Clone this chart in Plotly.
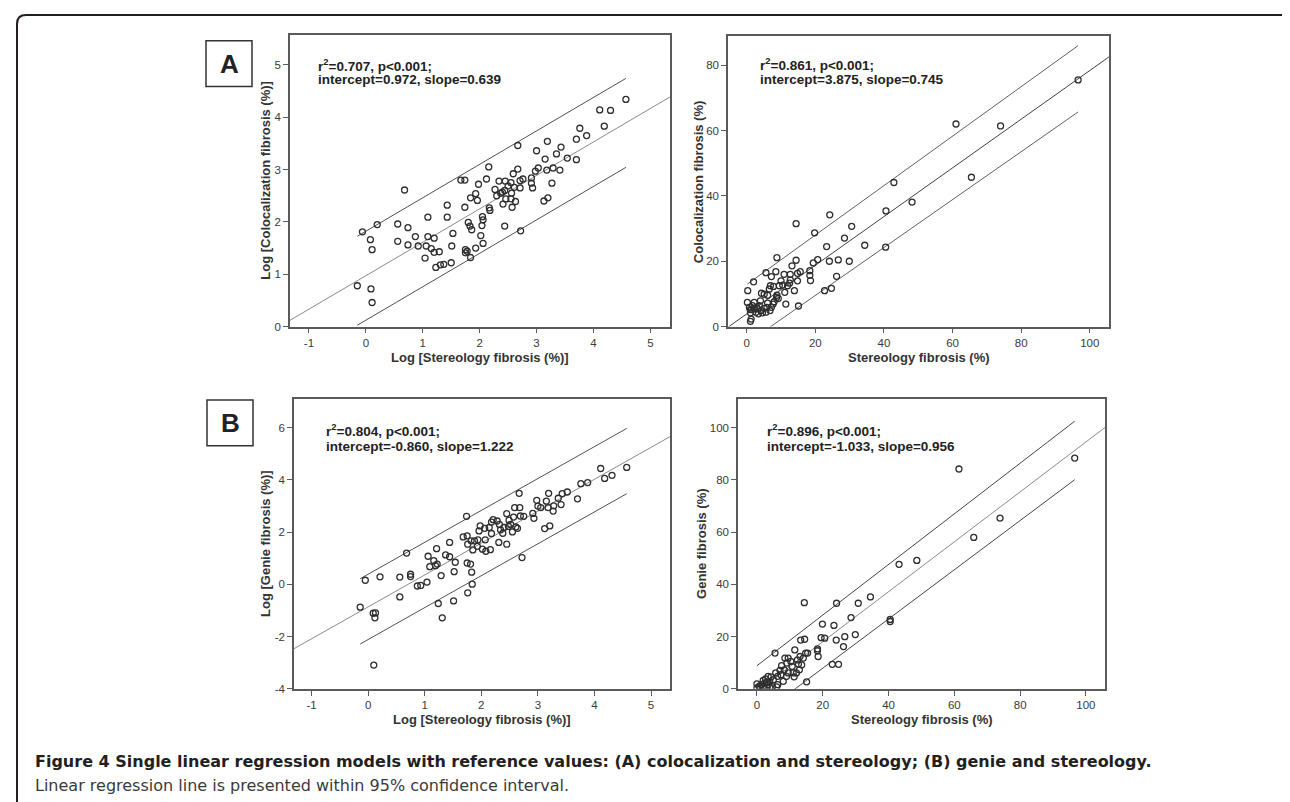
import numpy as np
import plotly.graph_objects as go

# ---------------- data ----------------
# Panel A (left): Log stereology vs Log colocalization
a_log_x = [-0.06, 0.20, 0.08, 0.11, -0.15, 0.09, 0.11, 0.68, 0.56, 0.56, 0.74, 0.74, 0.87, 0.92,
           1.09, 1.09, 1.06, 1.20, 1.04, 1.15, 1.20, 1.29, 1.23, 1.31, 1.37, 1.50, 1.43, 1.43, 1.53,
           1.51, 1.67, 1.74, 1.74, 1.80, 1.83, 1.86, 1.84, 1.93, 1.96, 1.98, 1.75, 1.78, 1.84, 1.75,
           1.93, 2.02, 2.06, 2.04, 2.05, 2.06, 2.12, 2.16, 2.17, 2.18, 2.27, 2.30, 2.34, 2.37, 2.40,
           2.45, 2.44, 2.41, 2.44, 2.46, 2.50, 2.55, 2.56, 2.55, 2.57, 2.59, 2.61, 2.63, 2.67, 2.67,
           2.71, 2.71, 2.72, 2.76, 2.91, 2.91, 2.93, 2.98, 3.00, 3.03, 3.13, 3.15, 3.19, 3.18, 3.20,
           3.27, 3.29, 3.35, 3.41, 3.43, 3.54, 4.11, 4.30, 4.57, 4.19, 3.76, 3.88, 3.70, 3.70]
a_log_y = [1.81, 1.95, 1.66, 1.47, 0.78, 0.72, 0.46, 2.61, 1.96, 1.63, 1.89, 1.56, 1.72, 1.54,
           2.09, 1.72, 1.54, 1.69, 1.31, 1.49, 1.42, 1.43, 1.13, 1.18, 1.19, 1.22, 2.32, 2.09, 1.78,
           1.54, 2.80, 2.80, 2.28, 1.99, 1.92, 1.85, 2.46, 2.54, 2.41, 2.72, 1.47, 1.44, 1.32, 1.41,
           1.50, 1.74, 1.59, 1.93, 2.10, 2.04, 2.82, 3.05, 2.27, 2.22, 2.62, 2.50, 2.78, 2.55, 2.57,
           2.78, 2.60, 2.34, 1.92, 2.44, 2.69, 2.75, 2.55, 2.44, 2.28, 2.92, 2.66, 2.39, 3.46, 3.01,
           2.79, 2.65, 1.83, 2.82, 2.84, 2.74, 2.65, 2.97, 3.36, 3.03, 2.40, 3.20, 3.54, 2.99, 2.46,
           2.74, 3.03, 3.30, 2.99, 3.43, 3.22, 4.14, 4.13, 4.34, 3.83, 3.79, 3.65, 3.58, 3.19]
a_log_fit = {"intercept": 0.972, "slope": 0.639, "pi_half": [0.85, 0.85]}
a_log_stats = ["r<sup>2</sup>=0.707, p&lt;0.001;", "intercept=0.972, slope=0.639"]

# Panel A (right): stereology vs colocalization (%)
a_raw_x = [61.0, 65.5, 42.9, 40.6, 40.5, 48.2, 34.4, 30.6, 28.5, 29.9, 26.7, 26.2, 24.1, 24.2,
           23.3, 24.7, 22.7, 20.7, 19.8, 19.4, 18.6, 18.4, 18.4, 14.4, 14.4, 15.1, 15.6, 14.8, 14.8,
           13.2, 13.9, 12.7, 12.7, 12.5, 11.9, 10.9, 11.4, 11.1, 10.5, 10.0, 9.5, 8.8, 8.5, 7.8, 8.8,
           8.7, 8.0, 7.2, 6.9, 6.6, 6.1, 5.6, 6.1, 5.9, 6.8, 7.2, 5.1, 4.3, 4.0, 3.7, 4.2, 3.4, 2.7,
           2.9, 2.0, 2.2, 1.7, 1.4, 1.1, 1.3, 1.1, 0.3, 0.2, 0.8, 1.0, 2.2, 3.2, 5.1, 5.6, 4.6, 7.7,
           9.2, 74.0, 96.6]
a_raw_y = [62.0, 45.7, 44.1, 35.4, 24.3, 38.1, 24.9, 30.7, 27.1, 20.0, 20.4, 15.4, 20.0, 34.2,
           24.5, 11.7, 11.0, 20.5, 28.7, 19.5, 14.1, 15.7, 17.1, 31.5, 20.3, 6.3, 16.8, 16.3, 14.0,
           18.6, 11.0, 16.0, 14.3, 13.3, 12.5, 16.0, 6.9, 10.5, 12.7, 14.0, 12.5, 21.1, 16.8, 12.3, 9.6,
           8.9, 7.6, 15.3, 12.5, 11.5, 9.6, 16.5, 7.2, 5.9, 4.9, 5.9, 9.9, 10.2, 7.9, 6.4, 4.9, 3.9, 4.4,
           5.9, 13.7, 7.4, 6.4, 5.2, 4.2, 2.3, 1.6, 11.0, 7.4, 5.9, 5.2, 5.4, 5.4, 5.6, 4.4, 4.2, 6.9,
           8.6, 61.4, 75.5]
a_raw_fit = {"intercept": 3.875, "slope": 0.745, "pi_half": [9.0, 10.15]}
a_raw_stats = ["r<sup>2</sup>=0.861, p&lt;0.001;", "intercept=3.875, slope=0.745"]

# Panel B (left): Log stereology vs Log genie
b_log_x = [-0.14, -0.05, 0.21, 0.09, 0.13, 0.12, 0.10, 0.68, 0.56, 0.56, 0.75, 0.75, 0.87, 0.93,
           1.04, 1.06, 1.09, 1.16, 1.19, 1.21, 1.22, 1.24, 1.29, 1.31, 1.37, 1.44, 1.44, 1.52, 1.51,
           1.54, 1.68, 1.75, 1.74, 1.76, 1.75, 1.81, 1.76, 1.83, 1.84, 1.82, 1.88, 1.85, 1.94, 1.96,
           1.98, 1.93, 2.02, 2.06, 2.07, 2.08, 2.14, 2.16, 2.18, 2.18, 2.21, 2.28, 2.31, 2.32, 2.34,
           2.38, 2.40, 2.45, 2.45, 2.48, 2.49, 2.52, 2.55, 2.57, 2.59, 2.61, 2.64, 2.67, 2.68, 2.69,
           2.72, 2.75, 2.91, 2.93, 2.98, 3.00, 3.05, 3.12, 3.15, 3.19, 3.21, 3.18, 3.27, 3.28, 3.36,
           3.41, 3.43, 3.52, 4.11, 4.18, 4.31, 4.57, 3.76, 3.88, 3.70]
b_log_y = [-0.87, 0.16, 0.29, -1.10, -1.09, -1.28, -3.09, 1.20, 0.28, -0.48, 0.39, 0.30, -0.06, -0.04,
           0.09, 1.08, 0.68, 0.91, 0.72, 1.37, 0.78, -0.73, 0.34, -1.28, 1.13, 1.61, 1.06, 0.49, -0.63,
           0.85, 1.82, 1.86, 2.61, 1.54, 0.82, 0.78, -0.32, 0.47, 0.01, 1.67, 1.67, 1.32, 1.71, 2.05,
           2.24, 1.46, 1.35, 2.15, 1.71, 1.27, 2.18, 1.33, 1.95, 2.39, 2.48, 2.43, 1.61, 2.30, 2.09,
           1.96, 2.18, 1.54, 2.71, 2.22, 2.46, 2.30, 2.01, 2.58, 2.94, 2.20, 2.15, 3.49, 2.94, 2.62,
           1.03, 2.61, 2.72, 2.53, 3.22, 3.00, 2.94, 2.14, 3.19, 3.49, 2.24, 2.94, 2.81, 3.01, 3.30,
           3.06, 3.48, 3.54, 4.44, 4.06, 4.18, 4.48, 3.86, 3.90, 3.28]
b_log_fit = {"intercept": -0.860, "slope": 1.222, "pi_half": [1.25, 1.25]}
b_log_stats = ["r<sup>2</sup>=0.804, p&lt;0.001;", "intercept=-0.860, slope=1.222"]

# Panel B (right): stereology vs genie (%)
b_raw_x = [61.4, 65.9, 43.2, 48.6, 34.5, 30.8, 28.6, 29.9, 26.7, 26.3, 24.8, 22.9, 24.2, 23.4,
           24.1, 19.9, 19.5, 20.6, 18.4, 18.4, 18.6, 14.4, 14.5, 13.3, 15.1, 14.8, 15.4, 14.1, 13.1,
           11.5, 12.6, 12.9, 11.3, 10.7, 10.3, 9.5, 9.1, 8.5, 8.3, 7.5, 7.3, 7.0, 5.5, 6.3, 5.7, 5.0,
           4.3, 3.9, 3.4, 3.0, 2.4, 1.9, 1.4, 0.7, 0.0, 0.0, 0.9, 1.9, 2.9, 3.9, 4.7, 6.0, 6.3, 8.0,
           9.0, 9.5, 11.0, 12.0, 13.6, 12.3, 3.4, 2.6, 96.6, 73.9, 40.5, 40.5]
b_raw_y = [84.2, 58.0, 47.7, 49.2, 35.2, 32.8, 27.3, 20.8, 20.0, 16.2, 9.4, 9.4, 32.8, 24.3,
           18.7, 24.8, 19.6, 19.4, 15.3, 14.6, 12.4, 33.0, 19.0, 18.7, 2.7, 13.7, 13.7, 11.8, 12.4,
           14.9, 9.5, 7.3, 4.6, 8.6, 10.5, 11.8, 9.9, 11.8, 7.3, 8.9, 5.4, 7.1, 13.7, 4.8, 6.1, 3.5,
           4.6, 2.9, 1.6, 2.5, 2.3, 3.2, 1.6, 1.0, 1.9, 0.4, 0.4, 0.6, 0.8, 0.6, 0.8, 0.8, 1.6, 2.9,
           4.8, 6.1, 6.1, 6.1, 9.2, 11.1, 4.8, 3.8, 88.4, 65.4, 26.6, 25.8]
b_raw_fit = {"intercept": -1.033, "slope": 0.956, "pi_half": [9.9, 11.2]}
b_raw_stats = ["r<sup>2</sup>=0.896, p&lt;0.001;", "intercept=-1.033, slope=0.956"]

# axis ticks / titles
log_x_ticks = [-1, 0, 1, 2, 3, 4, 5]
log_x_ticktext = ["-1", "0", "1", "2", "3", "4", "5"]
a_log_y_ticks = [0, 1, 2, 3, 4, 5]
b_log_y_ticks = [-4, -2, 0, 2, 4, 6]
b_log_y_ticktext = ["-4", "-2", "0", "2", "4", "6"]
raw_x_ticks = [0, 20, 40, 60, 80, 100]
a_raw_y_ticks = [0, 20, 40, 60, 80]
b_raw_y_ticks = [0, 20, 40, 60, 80, 100]

x_title_log = "Log [Stereology fibrosis (%)]"
x_title_raw = "Stereology fibrosis (%)"
y_titles = ["Log [Colocalization fibrosis (%)]", "Colocalization fibrosis (%)",
            "Log [Genie fibrosis (%)]", "Genie fibrosis (%)"]
panel_labels = ["A", "B"]
caption_bold = "Figure 4 Single linear regression models with reference values: (A) colocalization and stereology; (B) genie and stereology."
caption_text = "Linear regression line is presented within 95% confidence interval."

# ---------------- layout helpers ----------------
W, H = 1290, 802


def px(x):
    return x / W


def py(y):
    return 1 - y / H


FONT = "Liberation Sans, Arial, sans-serif"
CAP_FONT = "DejaVu Sans, Open Sans, sans-serif"

panels = [
    dict(x=a_log_x, y=a_log_y, fit=a_log_fit, stats=a_log_stats,
         box=(282, 662, 27, 321), xr=[-1.333, 5.345], yr=[0, 5.575],
         xt=(log_x_ticks, log_x_ticktext), yt=(a_log_y_ticks, [str(v) for v in a_log_y_ticks]),
         xtitle=x_title_log, ytitle=y_titles[0], ytitle_x=258, stats_pos=(308, 57, 72.5),
         center_col="#8a8a8a", ci_col="#505050"),
    dict(x=a_raw_x, y=a_raw_y, fit=a_raw_fit, stats=a_raw_stats,
         box=(720, 1101, 28, 321), xr=[-5.45, 105.6], yr=[0, 89],
         xt=(raw_x_ticks, [str(v) for v in raw_x_ticks]), yt=(a_raw_y_ticks, [str(v) for v in a_raw_y_ticks]),
         xtitle=x_title_raw, ytitle=y_titles[1], ytitle_x=690, stats_pos=(750, 56, 72.5),
         center_col="#404040", ci_col="#606060"),
    dict(x=b_log_x, y=b_log_y, fit=b_log_fit, stats=b_log_stats,
         box=(286, 662, 394, 686), xr=[-1.31, 5.335], yr=[-4, 7.1],
         xt=(log_x_ticks, log_x_ticktext), yt=(b_log_y_ticks, b_log_y_ticktext),
         xtitle=x_title_log, ytitle=y_titles[2], ytitle_x=258, stats_pos=(316, 425, 441.5),
         center_col="#8a8a8a", ci_col="#505050"),
    dict(x=b_raw_x, y=b_raw_y, fit=b_raw_fit, stats=b_raw_stats,
         box=(730, 1097, 394, 686), xr=[-5.76, 105.8], yr=[0, 111],
         xt=(raw_x_ticks, [str(v) for v in raw_x_ticks]), yt=(b_raw_y_ticks, [str(v) for v in b_raw_y_ticks]),
         xtitle=x_title_raw, ytitle=y_titles[3], ytitle_x=694, stats_pos=(757, 425, 441.5),
         center_col="#8a8a8a", ci_col="#454545"),
]

fig = go.Figure()
annotations = []
shapes = []
layout_axes = {}

for i, p in enumerate(panels):
    n = "" if i == 0 else str(i + 1)
    xref, yref = "x" + n, "y" + n
    x0, x1, y0, y1 = p["box"]
    fit = p["fit"]
    b0, b1 = fit["intercept"], fit["slope"]

    # regression line over whole axis range
    xr = np.array(p["xr"])
    fig.add_trace(go.Scatter(x=xr, y=b0 + b1 * xr, mode="lines", xaxis=xref, yaxis=yref,
                             line=dict(color=p["center_col"], width=1), hoverinfo="skip", showlegend=False))
    # 95% interval lines over data range
    xd = np.array([min(p["x"]), max(p["x"])])
    hw = np.array(fit["pi_half"])
    for sgn in (1, -1):
        fig.add_trace(go.Scatter(x=xd, y=b0 + b1 * xd + sgn * hw, mode="lines", xaxis=xref, yaxis=yref,
                                 line=dict(color=p["ci_col"], width=1), hoverinfo="skip", showlegend=False))
    # points
    fig.add_trace(go.Scatter(x=p["x"], y=p["y"], mode="markers", xaxis=xref, yaxis=yref,
                             marker=dict(symbol="circle-open", size=6, color="#2e2e2e",
                                         line=dict(width=1.3, color="#2e2e2e")),
                             showlegend=False))

    axis_common = dict(showgrid=False, zeroline=False, showline=True, mirror=True,
                       linecolor="#5a5a5a", linewidth=1.5, ticks="outside", ticklen=5,
                       tickcolor="#5a5a5a", tickwidth=1,
                       tickfont=dict(family=FONT, size=11.5, color="#3a3a3a"), fixedrange=True)
    layout_axes["xaxis" + n] = dict(axis_common, domain=[px(x0), px(x1)], range=p["xr"],
                                    anchor=yref, tickmode="array", tickvals=p["xt"][0],
                                    ticktext=p["xt"][1])
    layout_axes["yaxis" + n] = dict(axis_common, domain=[py(y1), py(y0)], range=p["yr"],
                                    anchor=xref, tickmode="array", tickvals=p["yt"][0],
                                    ticktext=p["yt"][1])

    # axis titles as annotations
    annotations.append(dict(text="<b>%s</b>" % p["xtitle"], x=px((x0 + x1) / 2), y=py(y1 + 31),
                            xref="paper", yref="paper", showarrow=False, xanchor="center", yanchor="middle",
                            font=dict(family=FONT, size=13, color="#333333")))
    annotations.append(dict(text="<b>%s</b>" % p["ytitle"], x=px(p["ytitle_x"]), y=py((y0 + y1) / 2),
                            xref="paper", yref="paper", showarrow=False, xanchor="center", yanchor="middle",
                            textangle=-90, font=dict(family=FONT, size=13, color="#333333")))
    # stats text
    sx, sy1, sy2 = p["stats_pos"]
    for txt, yy in zip(p["stats"], (sy1, sy2)):
        annotations.append(dict(text="<b>%s</b>" % txt, x=px(sx), y=py(yy), xref="paper", yref="paper",
                                showarrow=False, xanchor="left", yanchor="middle",
                                font=dict(family=FONT, size=13.5, color="#222222")))

# panel label boxes
for lab, (bx0, by0) in zip(panel_labels, [(198, 33), (199, 395)]):
    shapes.append(dict(type="rect", xref="paper", yref="paper", x0=px(bx0), x1=px(bx0 + 46),
                       y0=py(by0 + 46), y1=py(by0), line=dict(color="#333333", width=1.5)))
    annotations.append(dict(text="<b>%s</b>" % lab, x=px(bx0 + 23), y=py(by0 + 23), xref="paper", yref="paper",
                            showarrow=False, xanchor="center", yanchor="middle",
                            font=dict(family=FONT, size=26, color="#222222")))

# outer rounded frame
L, T, R, Bt, rad = 9, 7, 1289, 812, 9
path = "M {},{} L {},{} Q {},{} {},{} L {},{} Q {},{} {},{} L {},{}".format(
    px(L), py(Bt), px(L), py(T + rad), px(L), py(T), px(L + rad), py(T),
    px(R - rad), py(T), px(R), py(T), px(R), py(T + rad), px(R), py(Bt))
shapes.append(dict(type="path", path=path, xref="paper", yref="paper",
                   line=dict(color="#231f20", width=2)))

# caption
annotations.append(dict(text="<b>%s</b>" % caption_bold, x=px(25), y=py(759), xref="paper", yref="paper",
                        showarrow=False, xanchor="left", yanchor="middle",
                        font=dict(family=CAP_FONT, size=16, color="#231f20")))
annotations.append(dict(text=caption_text, x=px(25), y=py(783), xref="paper", yref="paper",
                        showarrow=False, xanchor="left", yanchor="middle",
                        font=dict(family=CAP_FONT, size=16, color="#3a3a3a")))

fig.update_layout(width=W, height=H, margin=dict(l=0, r=0, t=0, b=0),
                  paper_bgcolor="white", plot_bgcolor="white",
                  annotations=annotations, shapes=shapes, showlegend=False, **layout_axes)

fig.write_html("out.html")
